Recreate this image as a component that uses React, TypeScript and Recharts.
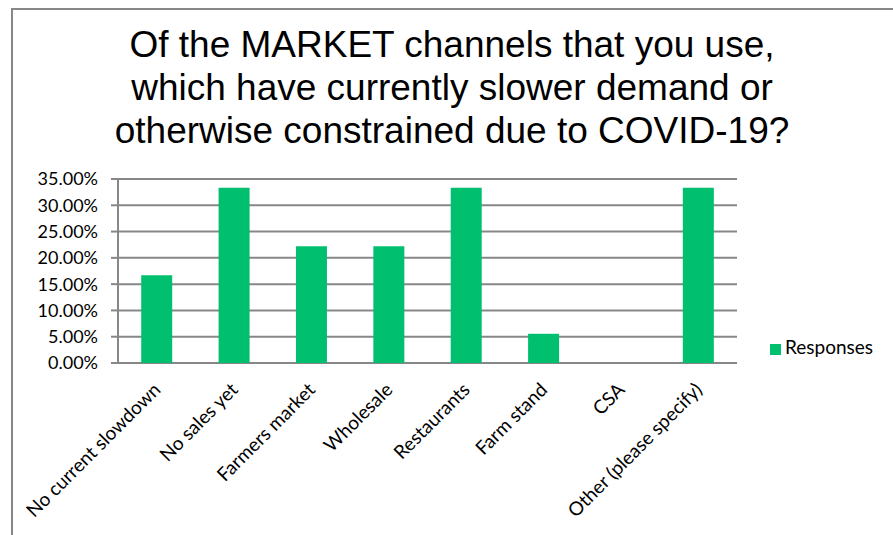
import React from 'react';
import { BarChart, Bar, XAxis, YAxis, CartesianGrid, Legend } from 'recharts';

const categories = [
  'No current slowdown',
  'No sales yet',
  'Farmers market',
  'Wholesale',
  'Restaurants',
  'Farm stand',
  'CSA',
  'Other (please specify)',
];
const responses = [0.1667, 0.3333, 0.2222, 0.2222, 0.3333, 0.0556, 0, 0.3333];
const yTicks = [0, 0.05, 0.1, 0.15, 0.2, 0.25, 0.3, 0.35];
const titleLines = [
  'Of the MARKET channels that you use,',
  'which have currently slower demand or',
  'otherwise constrained due to COVID-19?',
];

const data = categories.map((name, i) => ({ name, Responses: responses[i] }));
const edgeTicks = [...categories.map((_, i) => i), categories.length];

const GRID = '#878787';
const GREEN = '#00C070';
const FONT = 'Lato, "Open Sans", sans-serif';

const RotatedTick = (props: any) => {
  const { x, y, payload } = props;
  return (
    <g transform={`translate(${x + 5},${y + 20})`}>
      <text
        transform="rotate(-45)"
        textAnchor="end"
        fontFamily={FONT}
        fontSize={19}
        fill="#000"
      >
        {payload.value}
      </text>
    </g>
  );
};

export default function App() {
  return (
    <div
      style={{
        position: 'fixed',
        left: 0,
        top: 0,
        width: 893,
        height: 535,
        overflow: 'hidden',
        background: '#fff',
      }}
    >
      <div
        style={{
          position: 'absolute',
          left: 11,
          top: 8,
          width: 1000,
          height: 700,
          border: `2px solid ${GRID}`,
          boxSizing: 'border-box',
        }}
      />
      <div
        style={{
          position: 'absolute',
          left: 2,
          top: 23,
          width: 900,
          textAlign: 'center',
          fontFamily: '"Liberation Sans", Arial, sans-serif',
          fontSize: 37,
          lineHeight: '43px',
          color: '#000',
        }}
      >
        {titleLines.map((l) => (
          <div key={l}>{l}</div>
        ))}
      </div>
      <div style={{ position: 'absolute', left: 0, top: 0 }}>
        <BarChart
          width={893}
          height={535}
          data={data}
          margin={{ top: 179, right: 156, bottom: 52, left: 0 }}
          barCategoryGap="30%"
        >
          <CartesianGrid vertical={false} stroke={GRID} strokeWidth={2} />
          <XAxis
            xAxisId="edges"
            type="number"
            domain={[0, categories.length]}
            ticks={edgeTicks}
            tick={false}
            tickSize={7}
            height={0}
            stroke={GRID}
            strokeWidth={2}
          />
          <XAxis
            dataKey="name"
            interval={0}
            axisLine={false}
            tickLine={false}
            height={120}
            tick={<RotatedTick />}
          />
          <YAxis
            width={118}
            domain={[0, 0.35]}
            ticks={yTicks}
            tickSize={7}
            tickMargin={13}
            stroke={GRID}
            strokeWidth={2}
            tick={{ fill: '#000', fontFamily: FONT, fontSize: 18 }}
            tickFormatter={(v: number) => `${(v * 100).toFixed(2)}%`}
          />
          <Legend
            layout="vertical"
            align="center"
            verticalAlign="middle"
            iconType="square"
            iconSize={11}
            width={120}
            wrapperStyle={{ left: 770, top: 335, fontFamily: FONT, fontSize: 19 }}
            formatter={(value: string) => <span style={{ color: '#000' }}>{value}</span>}
          />
          <Bar dataKey="Responses" fill={GREEN} isAnimationActive={false} />
        </BarChart>
      </div>
    </div>
  );
}
